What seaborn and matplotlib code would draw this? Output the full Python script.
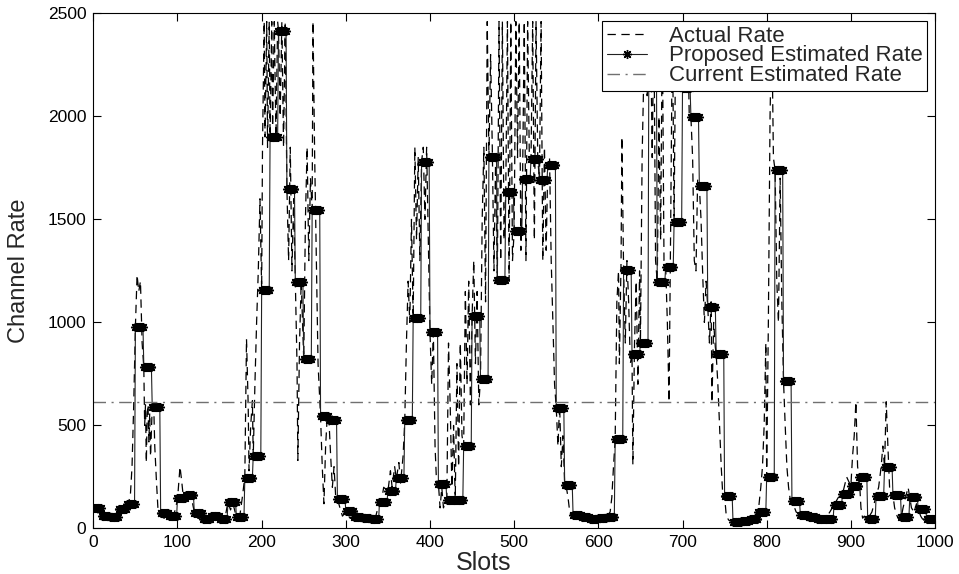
import numpy as np
import pandas as pd
import matplotlib
matplotlib.use("Agg")
import matplotlib.pyplot as plt
import seaborn as sns

# ---------------- data ----------------
block_size = 10
proposed_rate = [
    101, 61, 54, 93, 119, 980, 784, 591, 74, 61,
    146, 162, 74, 45, 61, 48, 130, 54, 247, 354,
    1158, 1902, 2415, 1648, 1198, 823, 1545, 544, 525, 144,
    84, 54, 51, 45, 130, 184, 244, 525, 1020, 1778,
    955, 214, 137, 137, 401, 1031, 727, 1803, 1208, 1632,
    1445, 1697, 1795, 1692, 1762, 586, 211, 64, 54, 48,
    51, 58, 433, 1255, 847, 898, 2300, 1197, 1270, 1487,
    2140, 1995, 1661, 1075, 847, 158, 33, 37, 44, 82,
    252, 1738, 716, 135, 66, 54, 45, 48, 114, 166,
    206, 249, 48, 158, 297, 162, 57, 151, 93, 48,
]

actual_slots = [
    0, 4, 6, 10, 14, 18, 22, 26, 30, 34, 38, 42, 44, 46, 48, 50, 52, 54, 56, 58,
    60, 61, 62, 63, 64, 65, 66, 67, 68, 70, 72, 73, 75, 77, 80, 84, 88, 92, 96, 100,
    103, 105, 107, 110, 114, 118, 120, 124, 128, 132, 136, 140, 144, 148, 152, 156, 160, 163, 166, 170,
    174, 177, 180, 182, 184, 185, 187, 189, 190, 192, 194, 196, 198, 200, 201, 203, 204, 206, 207, 209,
    210, 212, 213, 215, 217, 219, 220, 222, 224, 226, 228, 230, 232, 234, 236, 238, 240, 242, 243, 245,
    247, 250, 252, 254, 256, 258, 260, 261, 263, 265, 267, 270, 272, 274, 276, 278, 280, 282, 284, 286,
    288, 290, 293, 296, 300, 305, 310, 315, 320, 325, 330, 335, 340, 343, 345, 350, 353, 355, 358, 360,
    363, 365, 368, 370, 372, 374, 376, 378, 380, 382, 384, 386, 388, 390, 392, 394, 396, 398, 400, 402,
    404, 406, 408, 410, 412, 414, 416, 418, 420, 422, 424, 426, 428, 430, 432, 434, 436, 438, 440, 442,
    444, 446, 448, 450, 452, 454, 456, 458, 460, 462, 464, 466, 468, 470, 472, 474, 476, 478, 480, 482,
    484, 486, 488, 490, 492, 494, 496, 498, 500, 502, 504, 506, 508, 510, 512, 514, 516, 518, 520, 522,
    524, 526, 528, 530, 532, 534, 536, 538, 540, 542, 544, 546, 548, 550, 552, 554, 556, 558, 560, 562,
    564, 566, 568, 570, 575, 580, 585, 590, 595, 600, 605, 610, 614, 616, 618, 620, 622, 624, 625, 627,
    628, 630, 632, 634, 636, 638, 640, 641, 643, 645, 647, 649, 650, 652, 654, 656, 658, 660, 662, 664,
    666, 668, 670, 672, 674, 676, 678, 680, 682, 684, 686, 688, 690, 692, 694, 696, 698, 700, 702, 704,
    706, 708, 710, 712, 714, 716, 718, 720, 722, 724, 726, 728, 730, 732, 734, 735, 737, 739, 740, 742,
    744, 746, 748, 750, 752, 755, 760, 765, 770, 775, 780, 785, 790, 793, 795, 797, 799, 800, 802, 804,
    806, 808, 810, 812, 814, 816, 818, 820, 822, 824, 826, 828, 830, 835, 840, 845, 850, 855, 860, 865,
    870, 875, 880, 885, 890, 895, 900, 902, 904, 906, 908, 910, 912, 914, 916, 918, 920, 922, 925, 930,
    933, 936, 938, 940, 942, 944, 946, 948, 950, 952, 955, 958, 960, 962, 965, 968, 970, 972, 975, 978,
    980, 983, 986, 990, 995, 999,
]
actual_rate = [
    100, 95, 70, 60, 55, 50, 55, 60, 90, 100, 110, 130, 160, 300, 600, 980, 1230, 1150, 1200, 900,
    780, 500, 600, 320, 560, 600, 420, 560, 350, 590, 560, 400, 230, 80, 60, 50, 55, 60, 70, 140,
    300, 230, 150, 160, 150, 120, 80, 50, 45, 40, 55, 60, 75, 55, 45, 40, 130, 90, 120, 55,
    60, 150, 250, 920, 600, 280, 500, 620, 350, 700, 1000, 1250, 1600, 1160, 1850, 2460, 1900, 2460, 1850, 2460,
    1900, 2460, 1950, 2460, 1900, 2460, 2415, 2000, 2460, 1850, 2460, 1650, 1300, 1850, 1250, 1600, 1200, 800, 330, 900,
    1200, 820, 1500, 1850, 1300, 1700, 1550, 2460, 1800, 1300, 800, 540, 300, 120, 400, 550, 520, 350, 200, 300,
    150, 145, 100, 60, 80, 50, 45, 40, 50, 45, 40, 50, 130, 150, 200, 180, 280, 200, 300, 240,
    320, 220, 350, 520, 900, 1200, 1000, 1500, 1020, 1850, 1400, 1800, 1300, 1780, 1850, 1500, 1850, 1400, 950, 700,
    950, 400, 200, 216, 100, 200, 100, 130, 138, 900, 600, 200, 500, 138, 800, 300, 900, 450, 400, 1150,
    700, 1200, 600, 1030, 1300, 800, 1150, 600, 729, 1500, 1850, 1100, 2460, 1800, 2300, 1850, 1250, 1800, 1210, 2460,
    1300, 2460, 1400, 1630, 2460, 1200, 2460, 1300, 1440, 2460, 1800, 2460, 1350, 1700, 2460, 1300, 2460, 1800, 1790, 2460,
    1400, 2460, 1800, 1690, 2460, 1300, 1850, 1350, 1760, 1800, 1300, 1000, 700, 586, 400, 600, 300, 450, 211, 200,
    150, 80, 60, 64, 55, 50, 45, 45, 40, 50, 45, 55, 80, 150, 300, 433, 1100, 1250, 800, 1300,
    1900, 1255, 900, 1300, 1100, 800, 847, 310, 900, 1200, 700, 1250, 898, 1800, 2200, 2460, 2100, 2300, 2460, 1800,
    2460, 1300, 1197, 2000, 1400, 2460, 1300, 1270, 1000, 615, 1500, 2460, 1487, 2460, 2200, 2460, 2200, 2140, 2460, 2300,
    2460, 2000, 1995, 1800, 1300, 1250, 1700, 1661, 1500, 1230, 1000, 1200, 1075, 900, 1100, 611, 1000, 880, 847, 700,
    500, 300, 150, 158, 60, 40, 33, 35, 37, 40, 44, 60, 82, 200, 300, 500, 900, 252, 1000, 2000,
    2460, 1800, 1738, 1200, 1000, 1700, 1100, 716, 500, 300, 200, 140, 135, 80, 66, 55, 54, 45, 45, 50,
    48, 80, 114, 150, 166, 250, 206, 350, 450, 615, 300, 249, 100, 50, 60, 45, 48, 60, 80, 158,
    200, 300, 400, 297, 615, 400, 200, 150, 162, 100, 60, 40, 57, 100, 150, 200, 151, 100, 80, 120,
    93, 60, 40, 48, 40, 40,
]

current_rate = 615
series_labels = ["Actual Rate", "Proposed Estimated Rate", "Current Estimated Rate"]
x_ticks = [0, 100, 200, 300, 400, 500, 600, 700, 800, 900, 1000]
y_ticks = [0, 500, 1000, 1500, 2000, 2500]

# ---------------- tables ----------------
n_slots = block_size * len(proposed_rate)
prop_df = pd.DataFrame({"slot": np.arange(n_slots),
                        "rate": np.repeat(proposed_rate, block_size)})
act_df = pd.DataFrame({"slot": actual_slots, "rate": actual_rate})
cur_df = pd.DataFrame({"slot": [x_ticks[0], x_ticks[-1]],
                       "rate": [current_rate, current_rate]})

# ---------------- style ----------------
sns.set_style("ticks")
plt.rcParams["font.family"] = ["Liberation Sans", "DejaVu Sans"]
plt.rcParams["lines.scale_dashes"] = False

fig = plt.figure(figsize=(9.59, 5.74), dpi=100)
ax = fig.add_axes([0.0973, 0.0793, 0.8777, 0.8975])

sns.lineplot(data=act_df, x="slot", y="rate", ax=ax, estimator=None, sort=False,
             color="black", linewidth=0.9, linestyle=(0, (6, 4)),
             label=series_labels[0])
sns.lineplot(data=prop_df, x="slot", y="rate", ax=ax, estimator=None, sort=False,
             color="#222222", linewidth=0.8, marker=(8, 2, 0), markersize=6.5,
             markeredgewidth=1.0, markerfacecolor="black", markeredgecolor="black",
             label=series_labels[1])
sns.lineplot(data=cur_df, x="slot", y="rate", ax=ax, estimator=None, sort=False,
             color="#707070", linewidth=1.0, linestyle=(0, (9, 4, 1.5, 4)),
             label=series_labels[2])

ax.set_xlim(x_ticks[0], x_ticks[-1])
ax.set_ylim(y_ticks[0], y_ticks[-1])
ax.set_xticks(x_ticks)
ax.set_yticks(y_ticks)
ax.tick_params(direction="in", top=True, right=True, length=6, width=0.8,
               labelsize=12.5, pad=5, colors="black")
for sp in ax.spines.values():
    sp.set_visible(True)
    sp.set_color("black")
    sp.set_linewidth(0.8)

ax.set_xlabel("Slots", fontsize=18)
ax.set_ylabel("Channel Rate", fontsize=17)
ax.xaxis.set_label_coords(0.464, -0.044)
ax.yaxis.set_label_coords(-0.075, 0.5)

leg = ax.legend(loc="upper right", fontsize=16, frameon=True, fancybox=False,
                edgecolor="black", framealpha=1, handlelength=1.8,
                handletextpad=1.0, labelspacing=-0.05, borderpad=0.2,
                borderaxespad=0.35)
leg.get_frame().set_linewidth(0.8)

fig.savefig("out.png", dpi=100)
